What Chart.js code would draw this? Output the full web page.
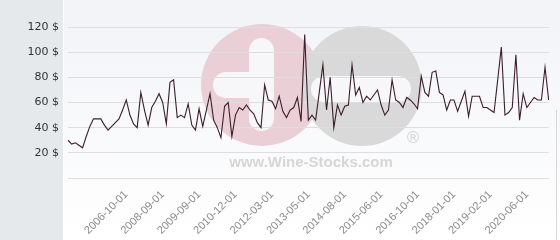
<!DOCTYPE html>
<html>
<head>
<meta charset="utf-8">
<script src="https://cdn.jsdelivr.net/npm/chart.js@4/dist/chart.umd.min.js"></script>
<style>
  html, body { margin: 0; padding: 0; background: #ffffff; }
  #wrap { position: relative; width: 560px; height: 240px; }
</style>
</head>
<body>
<div id="wrap"><canvas id="grafica" width="560" height="240"></canvas></div>
<script>
// fechas (solo algunas se muestran en el eje)
const fechas = [
  '2004-03-01','2004-05-01',
  '2004-07-01','2004-09-01','2004-11-01','2005-01-01','2005-03-01','2005-05-01','2005-07-01','2005-09-01','2005-11-01','2006-01-01',
  '2006-03-01','2006-05-01','2006-07-01','2006-09-01','2006-10-01','2006-12-01','2007-03-01','2007-05-01','2007-07-01','2007-10-01',
  '2007-12-01','2008-02-01','2008-04-01','2008-07-01','2008-09-01','2008-10-01','2008-11-01','2008-12-01','2009-01-01','2009-02-01',
  '2009-04-01','2009-05-01','2009-06-01','2009-08-01','2009-09-01','2009-10-01','2009-12-01','2010-01-01','2010-03-01','2010-05-01',
  '2010-06-01','2010-08-01','2010-09-01','2010-11-01','2010-12-01','2011-01-01','2011-03-01','2011-04-01','2011-06-01','2011-08-01',
  '2011-09-01','2011-11-01','2011-12-01','2012-02-01','2012-03-01','2012-04-01','2012-06-01','2012-07-01','2012-09-01','2012-10-01',
  '2012-12-01','2013-01-01','2013-03-01','2013-04-01','2013-05-01','2013-06-01','2013-08-01','2013-09-01','2013-11-01','2014-01-01',
  '2014-02-01','2014-04-01','2014-05-01','2014-07-01','2014-08-01','2014-09-01','2014-10-01','2014-11-01','2014-12-01','2015-01-01',
  '2015-02-01','2015-03-01','2015-04-01','2015-05-01','2015-06-01','2015-07-01','2015-09-01','2015-10-01','2015-12-01','2016-02-01',
  '2016-03-01','2016-05-01','2016-07-01','2016-08-01','2016-10-01','2016-11-01','2017-01-01','2017-02-01','2017-04-01','2017-06-01',
  '2017-07-01','2017-09-01','2017-10-01','2017-12-01','2018-01-01','2018-02-01','2018-04-01','2018-05-01','2018-06-01','2018-08-01',
  '2018-09-01','2018-10-01','2018-12-01','2019-01-01','2019-02-01','2019-03-01','2019-05-01','2019-07-01','2019-08-01','2019-10-01',
  '2019-11-01','2020-01-01','2020-03-01','2020-04-01','2020-06-01','2020-07-01','2020-09-01','2020-10-01','2020-12-01','2021-02-01',
  '2021-03-01'
]

// precios en $
const precios = [
  30, 27, 28, 26, 24, 33, 41, 47, 47, 47,
  42, 38, 41, 44, 47, 54, 62, 50, 43, 40,
  68, 54, 42, 56, 61, 67, 60, 43, 76, 78,
  48, 50, 48, 59, 42, 38, 55, 41, 54, 67,
  46, 40, 32, 57, 60, 33, 50, 56, 54, 58,
  54, 51, 44, 40, 74, 62, 61, 55, 65, 53,
  48, 54, 56, 64, 45, 114, 46, 50, 46, 68,
  90, 54, 80, 40, 58, 50, 57, 58, 90, 66,
  72, 60, 65, 62, 66, 70, 58, 50, 54, 78,
  62, 60, 56, 64, 62, 59, 55, 81, 68, 65,
  84, 85, 68, 66, 54, 62, 62, 53, 61, 69,
  49, 65, 65, 65, 56, 56, 54, 52, 78, 104,
  50, 52, 56, 98, 46, 67, 56, 60, 64, 62,
  62, 88, 62
]

const marcasY = [0, 20, 40, 60, 80, 100, 120]
const indicesVisibles = [16, 26, 36, 46, 56, 66, 76, 86, 96, 106, 116, 126]

const fondo = {
  id: 'fondo',
  beforeDraw(chart) {
    const ctx = chart.ctx
    const w = chart.width, h = chart.height
    ctx.save()
    const grad = ctx.createLinearGradient(0, 0, 0, h)
    grad.addColorStop(0, '#f2f3f7')
    grad.addColorStop(1, '#ffffff')
    ctx.fillStyle = grad
    ctx.fillRect(0, 0, w, h)
    ctx.fillStyle = '#e5e9ec'
    ctx.fillRect(0, 0, 63, h)
    ctx.fillStyle = '#ffffff'
    ctx.fillRect(63, 0, 1, h)
    ctx.fillStyle = '#d8d8d8'
    ctx.fillRect(556, 110, 1, h - 110)

    // marca de agua
    ctx.fillStyle = '#ebcfd6'
    ctx.beginPath(); ctx.arc(262, 85, 61, 0, Math.PI * 2); ctx.fill()
    ctx.fillStyle = '#d9d9d9'
    ctx.beginPath(); ctx.arc(362, 86, 60, 0, Math.PI * 2); ctx.fill()
    ctx.fillStyle = '#f7f7fa'
    ctx.beginPath(); ctx.roundRect(249, 38, 25, 93, 12.5); ctx.fill()
    ctx.beginPath(); ctx.roundRect(213, 72, 50, 26, 13); ctx.fill()
    ctx.beginPath(); ctx.roundRect(311, 76, 100, 26, 13); ctx.fill()

    ctx.fillStyle = '#d6d6d6'
    ctx.font = 'bold 15px "Liberation Sans", Arial, sans-serif'
    ctx.textAlign = 'center'
    ctx.textBaseline = 'alphabetic'
    ctx.fillText('www.Wine-Stocks.com', 311, 167)
    ctx.font = '16px "DejaVu Sans", sans-serif'
    ctx.textBaseline = 'middle'
    ctx.fillText('®', 413, 139)
    ctx.restore()
  }
}

const config = {
  type: 'line',
  data: {
    labels: fechas,
    datasets: [{
      label: 'Precio',
      data: precios,
      borderColor: '#3b1e2b',
      borderWidth: 1.1,
      pointRadius: 0,
      tension: 0,
      fill: false
    }]
  },
  options: {
    responsive: false,
    animation: false,
    layout: { padding: { top: 27, right: 5, left: 0, bottom: 0 } },
    plugins: {
      legend: { display: false },
      tooltip: { enabled: false }
    },
    scales: {
      x: {
        grid: { display: false },
        border: { display: false },
        ticks: {
          autoSkip: false,
          minRotation: 45,
          maxRotation: 45,
          padding: 2,
          color: '#8a8a8a',
          font: { family: '"Liberation Sans", Arial, sans-serif', size: 11 },
          callback: (v, i) => indicesVisibles.includes(i) ? fechas[i] : ''
        },
        afterFit: (scale) => { scale.height = 62 }
      },
      y: {
        min: 0,
        max: 120,
        afterBuildTicks: (scale) => { scale.ticks = marcasY.map(v => ({ value: v })) },
        grid: { color: '#dedede', lineWidth: 1, drawTicks: false },
        border: { display: false },
        ticks: {
          padding: 9,
          color: '#333333',
          font: { family: '"DejaVu Sans", sans-serif', size: 11 },
          callback: (v) => v === 0 ? '' : v + ' $'
        },
        afterFit: (scale) => { scale.width = 68 }
      }
    }
  },
  plugins: [fondo]
}

window.graficaUno = new Chart(document.getElementById('grafica'), config)
</script>
</body>
</html>
